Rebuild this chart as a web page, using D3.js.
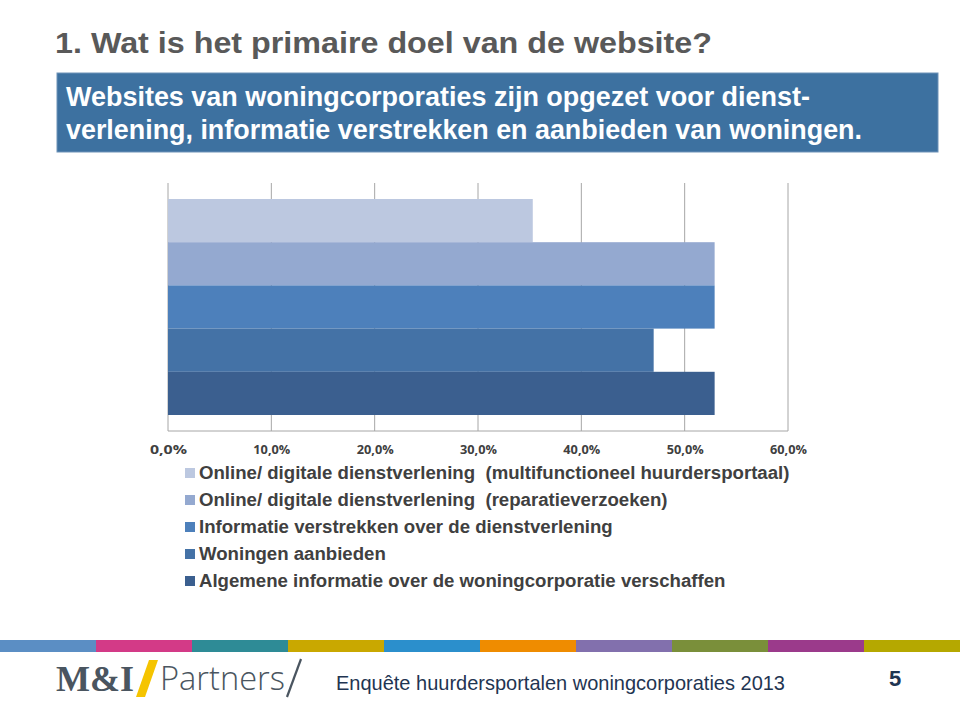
<!DOCTYPE html>
<html><head><meta charset="utf-8">
<script src="https://cdn.jsdelivr.net/npm/d3@7"></script>
<style>body{margin:0;background:#fff}svg{display:block}</style>
</head><body>
<script>
const categories = [
  "Online/ digitale dienstverlening  (multifunctioneel huurdersportaal)",
  "Online/ digitale dienstverlening  (reparatieverzoeken)",
  "Informatie verstrekken over de dienstverlening",
  "Woningen aanbieden",
  "Algemene informatie over de woningcorporatie verschaffen"
];
const values = [35.3, 52.9, 52.9, 47.0, 52.9];
const colors = ["#bcc8e0", "#94a9d0", "#4d80bb", "#4472a6", "#3b5f8f"];
const tickValues = [0, 10, 20, 30, 40, 50, 60];
const footerColors = ["#5b8ec4","#d33a87","#2e8b96","#c9a800","#2b8fcc","#ef8c00","#8270ad","#7a8f3a","#9b3a8b","#b5a800"];

const W = 960, H = 701;
const svg = d3.select("body").append("svg").attr("width", W).attr("height", H);
const narrow = "'Liberation Sans Narrow', 'Arial Narrow', 'Liberation Sans', Arial, sans-serif";

// Title
svg.append("text").attr("x", 55).attr("y", 53)
  .attr("font-family", narrow).attr("font-size", 30).attr("font-weight", "bold")
  .attr("fill", "#595959").attr("textLength", 657).attr("lengthAdjust", "spacingAndGlyphs")
  .text("1. Wat is het primaire doel van de website?");

// Blue box
svg.append("rect").attr("x", 57).attr("y", 73).attr("width", 881).attr("height", 79)
  .attr("fill", "#3d71a0").attr("stroke", "#6f93b8").attr("stroke-width", 1);
svg.append("text").attr("x", 66).attr("y", 106)
  .attr("font-family", narrow).attr("font-size", 28).attr("font-weight", "bold").attr("fill", "#fff")
  .attr("textLength", 744).attr("lengthAdjust", "spacingAndGlyphs")
  .text("Websites van woningcorporaties zijn opgezet voor dienst-");
svg.append("text").attr("x", 66).attr("y", 139)
  .attr("font-family", narrow).attr("font-size", 28).attr("font-weight", "bold").attr("fill", "#fff")
  .attr("textLength", 796).attr("lengthAdjust", "spacingAndGlyphs")
  .text("verlening, informatie verstrekken en aanbieden van woningen.");

// Chart
const x = d3.scaleLinear().domain([0, 60]).range([168, 788]);
const y = d3.scaleBand().domain(categories).range([199, 415]).padding(0);
const plotTop = 183, plotBottom = 431;

const g = svg.append("g");
g.selectAll("line.grid").data(tickValues).join("line")
  .attr("x1", d => x(d)).attr("x2", d => x(d))
  .attr("y1", plotTop).attr("y2", plotBottom)
  .attr("stroke", "#a6a6a6").attr("stroke-width", 1);
g.append("line").attr("x1", x(0)).attr("x2", x(60)).attr("y1", plotBottom).attr("y2", plotBottom)
  .attr("stroke", "#a6a6a6").attr("stroke-width", 1);

g.selectAll("rect.bar").data(categories).join("rect")
  .attr("x", x(0)).attr("y", d => y(d))
  .attr("width", (d, i) => x(values[i]) - x(0))
  .attr("height", y.bandwidth())
  .attr("fill", (d, i) => colors[i]);

// x-axis labels
const axis = d3.axisBottom(x).tickValues(tickValues)
  .tickFormat(d => d3.format(".1f")(d).replace(".", ",") + "%").tickSize(0).tickPadding(0);
const ag = svg.append("g").attr("transform", `translate(0,${445})`).call(axis);
ag.select(".domain").remove();
ag.selectAll("text").attr("font-family", "'Open Sans', 'Liberation Sans', sans-serif")
  .attr("font-size", 12.5).attr("font-weight", "bold").attr("fill", "#404040")
  .attr("textLength", 37).attr("lengthAdjust", "spacingAndGlyphs");

// legend
const leg = svg.append("g");
categories.forEach((c, i) => {
  const yy = 479 + i * 27;
  leg.append("rect").attr("x", 185).attr("y", yy - 11).attr("width", 10).attr("height", 10).attr("fill", colors[i]);
  leg.append("text").attr("class", "lt").attr("x", 199).attr("y", yy)
    .attr("font-family", "'Liberation Sans', Arial, sans-serif").attr("font-size", 18)
    .attr("font-weight", "bold")
    .attr("fill", "#404040").style("white-space", "pre").text(c);
});
const firstW = leg.select("text.lt").node().getComputedTextLength();
const fs = 18 * 591 / firstW;
leg.selectAll("text.lt").attr("font-size", fs);

// footer colour bar
const fx = d3.scaleBand().domain(d3.range(footerColors.length)).range([0, W]);
svg.selectAll("rect.fc").data(footerColors).join("rect")
  .attr("x", (d, i) => fx(i)).attr("y", 640).attr("width", fx.bandwidth() + 0.5).attr("height", 12)
  .attr("fill", d => d);

// logo
svg.append("text").attr("x", 56).attr("y", 691)
  .attr("font-family", "'Liberation Serif', 'DejaVu Serif', serif").attr("font-size", 35).attr("font-weight", "bold")
  .attr("fill", "#4a5560").attr("textLength", 78).attr("lengthAdjust", "spacingAndGlyphs").text("M&I");
svg.append("polygon").attr("points", "136,697 145,697 158,660 149,660").attr("fill", "#f5c400");
svg.append("text").attr("x", 160).attr("y", 690)
  .attr("font-family", "'Open Sans', 'Liberation Sans', sans-serif").attr("font-size", 33).attr("font-weight", 300)
  .attr("fill", "#4a5560").attr("textLength", 125).attr("lengthAdjust", "spacingAndGlyphs").text("Partners");
svg.append("line").attr("x1", 287).attr("y1", 697).attr("x2", 301).attr("y2", 659)
  .attr("stroke", "#4a5560").attr("stroke-width", 2.2);

svg.append("text").attr("x", 336).attr("y", 690)
  .attr("font-family", narrow).attr("font-size", 21).attr("fill", "#1f3552")
  .attr("textLength", 449).attr("lengthAdjust", "spacingAndGlyphs")
  .text("Enquête huurdersportalen woningcorporaties 2013");
svg.append("text").attr("x", 889).attr("y", 686)
  .attr("font-family", narrow).attr("font-size", 22).attr("font-weight", "bold").attr("fill", "#1f3552")
  .text("5");
</script>
</body></html>
